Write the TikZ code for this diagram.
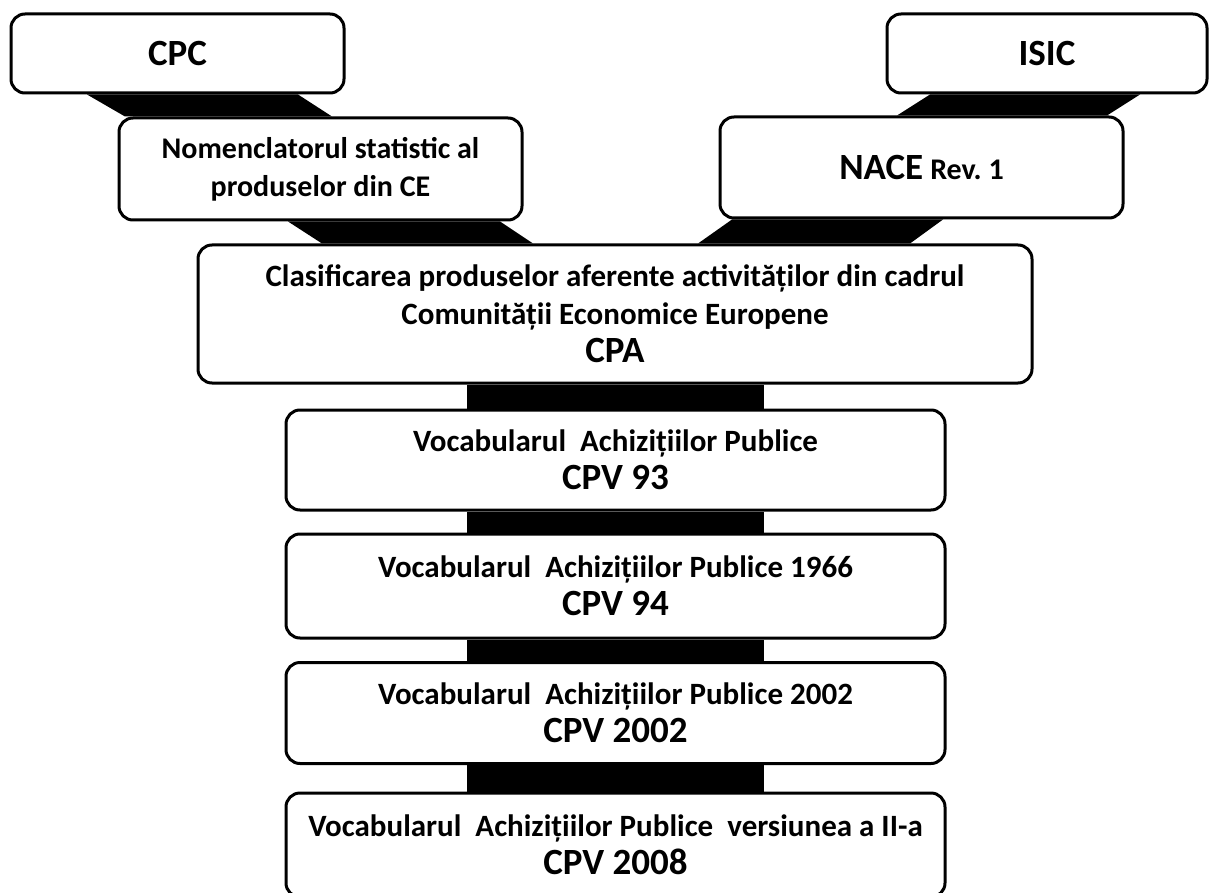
\documentclass[tikz,border=0pt]{standalone}
\usepackage{fontspec}
\setmainfont{Carlito}
\usetikzlibrary{calc,backgrounds}

\tikzset{
  box/.style={draw, line width=3pt, rounded corners=14pt, fill=white,
    align=center, inner sep=0pt, font=\bfseries\fontsize{31}{38}\selectfont},
  band/.style={fill=black},
}
\newcommand{\codetxt}[1]{{\fontsize{37}{38}\selectfont #1}}

\begin{document}
\begin{tikzpicture}[x=1pt,y=1pt]
                \useasboundingbox (0,0) rectangle (1209,-893);
                \node[box, minimum width=333pt, minimum height=79pt] (cpc) at (177.5,-53.5) {\codetxt{CPC}};
                \node[box, minimum width=320pt, minimum height=79pt] (isic) at (1047,-53.5) {\codetxt{ISIC}};
                \node[box, minimum width=403pt, minimum height=102pt] (nom) at (320.5,-169) {\fontsize{30}{38}\selectfont Nomenclatorul statistic al\\ \fontsize{30}{38}\selectfont produselor din CE};
                \node[box, minimum width=403pt, minimum height=101pt] (nace) at (921.5,-167.5) {{\fontsize{37}{38}\selectfont NACE} {\fontsize{30}{38}\selectfont Rev.\ 1}};
                \node[box, minimum width=834pt, minimum height=138pt] (cpa) at (615,-314) {Clasificarea produselor aferente activităților din cadrul\\ Comunității Economice Europene\\ \codetxt{CPA}};
                \node[box, minimum width=659pt, minimum height=100pt] (cpv93) at (615.5,-460) {Vocabularul\ \ Achizițiilor Publice\\ \codetxt{CPV 93}};
                \node[box, minimum width=659pt, minimum height=104pt] (cpv94) at (615.5,-586) {Vocabularul\ \ Achizițiilor Publice 1966\\ \codetxt{CPV 94}};
                \node[box, minimum width=659pt, minimum height=101pt] (cpv02) at (615.5,-713) {Vocabularul\ \ Achizițiilor Publice 2002\\ \codetxt{CPV 2002}};
                \node[box, minimum width=659pt, minimum height=104pt] (cpv08) at (615.5,-845) {Vocabularul\ \ Achizițiilor Publice\ \ versiunea a II-a\\ \codetxt{CPV 2008}};
                \begin{scope}[on background layer]
                \fill[band] ($(cpc.south)+(-90.5,0)$) -- ($(cpc.south)+(120.5,0)$) -- ($(nom.north)+(11.5,0)$) -- ($(nom.north)+(-195.5,0)$) -- cycle;
                \fill[band] ($(nom.south)+(-32.5,0)$) -- ($(nom.south)+(179.5,0)$) -- ($(cpa.north)+(-82,0)$) -- ($(cpa.north)+(-293,0)$) -- cycle;
                \fill[band] ($(isic.south)+(-117,0)$) -- ($(isic.south)+(93,0)$) -- ($(nace.north)+(185.5,0)$) -- ($(nace.north)+(-24.5,0)$) -- cycle;
                \fill[band] ($(nace.south)+(-189.5,0)$) -- ($(nace.south)+(21.5,0)$) -- ($(cpa.north)+(295,0)$) -- ($(cpa.north)+(83,0)$) -- cycle;
                \fill[band] ($(cpa.south)+(-148.5,0)$) rectangle ($(cpv93.north)+(148.5,0)$);
                \fill[band] ($(cpv93.south)+(-148.5,0)$) rectangle ($(cpv94.north)+(148.5,0)$);
                \fill[band] ($(cpv94.south)+(-148.5,0)$) rectangle ($(cpv02.north)+(148.5,0)$);
                \fill[band] ($(cpv02.south)+(-148.5,0)$) rectangle ($(cpv08.north)+(148.5,0)$);
                \end{scope}
            \end{tikzpicture}
\end{document}
